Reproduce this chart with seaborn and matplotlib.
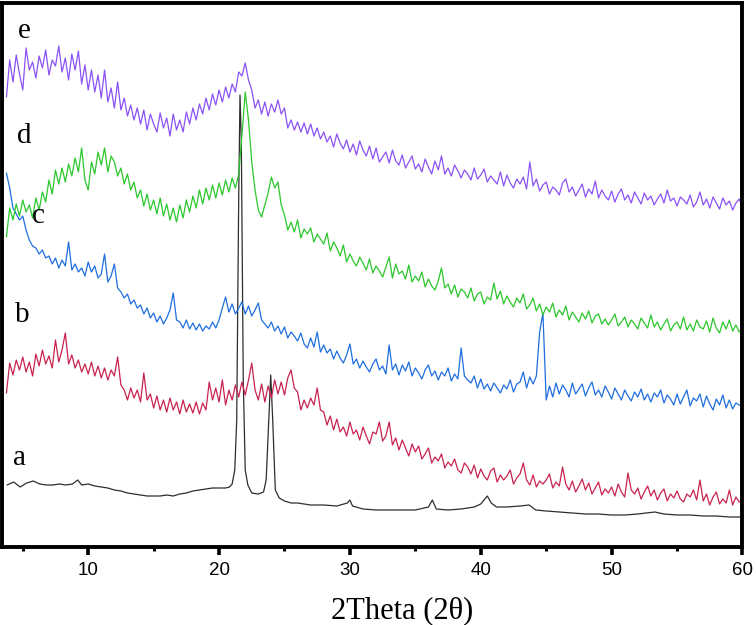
import numpy as np
import pandas as pd
import seaborn as sns
import matplotlib
matplotlib.use("Agg")
import matplotlib.pyplot as plt

# ---------------- data (arbitrary intensity units incl. offsets) ----------------
two_theta = np.arange(3.75, 60.0001, 0.25)

e_vals = [463,
    500, 478, 505, 486,  470, 512, 490, 498,  482, 504, 492, 510,  485, 500, 494, 514,
    488, 502, 480, 506,  490, 509, 476, 495,  470, 490, 468, 485,  462, 490, 458, 472,
    452, 478, 450, 462,  444, 455, 440, 452,  436, 450, 430, 446,  436, 428, 447, 432,
    442, 424, 446, 430,  440, 428, 448, 436,  452, 440, 456, 446,  462, 450, 466, 455,
    470, 458, 473, 462,  476, 468, 488, 484,  497, 480, 470, 452,  460, 446, 458, 444,
    456, 448, 460, 446,  452, 432, 440, 430,  438, 428, 437, 426,  436, 424, 432, 421,
    428, 418, 424, 413,  426, 417, 411, 420,  408, 416, 405, 419,  410, 404, 414, 401,
    412, 398, 403, 408,  397, 410, 399, 395,  405, 392, 398, 404,  391, 396, 388, 401,
    393, 386, 399, 390,  404, 386, 392, 384,  395, 389, 382, 390,  386, 380, 392, 381,
    385, 391, 378, 384,  380, 376, 388, 374,  385, 377, 372, 381,  376, 383, 371, 398,
    374, 381, 369, 375,  378, 366, 373, 370,  365, 377, 381, 368,  373, 364, 370, 376,
    363, 371, 366, 379,  362, 370, 364, 360,  369, 358, 366, 371,  360, 365, 357, 368,
    362, 356, 367, 360,  364, 355, 361, 366,  357, 370, 359, 362,  354, 363, 360, 356,
    365, 353, 358, 368,  355, 361, 352, 363,  357, 351, 362, 355,  359, 350, 357, 361,
    353]

d_vals = [323,
    352, 340, 356, 344,  360, 348, 355, 342,  362, 350, 368, 358,  380, 366, 390, 376,
    392, 378, 396, 384,  402, 388, 412, 380,  370, 398, 386, 408,  395, 412, 388, 404,
    398, 384, 392, 376,  386, 370, 378, 362,  370, 354, 366, 350,  360, 346, 362, 344,
    356, 340, 352, 338,  355, 342, 360, 348,  364, 352, 370, 356,  372, 360, 375, 362,
    377, 365, 380, 368,  382, 372, 386, 425,  468, 440, 398, 370,  350, 343, 355, 367,
    383, 372, 378, 355,  345, 330, 338, 328,  340, 322, 331, 326,  332, 318, 326, 321,
    316, 327, 309, 318,  312, 304, 315, 298,  306, 299, 294, 303,  297, 290, 301, 287,
    294, 289, 283, 293,  303, 282, 296, 286,  289, 281, 295, 278,  284, 279, 288, 273,
    281, 274, 270, 279,  292, 272, 276, 266,  275, 263, 271, 268,  262, 272, 259, 266,
    268, 256, 263, 260,  277, 261, 269, 256,  264, 258, 253, 262,  257, 266, 251, 255,
    262, 249, 256, 245,  253, 248, 257, 243,  250, 245, 254, 240,  248, 243, 238, 247,
    241, 249, 237, 244,  246, 236, 241, 235,  240, 246, 234, 238,  243, 233, 240, 236,
    231, 242, 237, 232,  245, 233, 238, 230,  236, 241, 229, 235,  238, 231, 243, 230,
    236, 229, 240, 233,  231, 239, 228, 242,  232, 227, 238, 231,  240, 229, 235, 228,
    232]

c_vals = [387,
    372, 352, 346, 340,  344, 330, 320, 314,  312, 306, 310, 302,  304, 296, 302, 292,
    300, 294, 318, 290,  296, 288, 292, 284,  298, 288, 294, 282,  286, 306, 278, 284,
    296, 272, 268, 262,  266, 256, 260, 252,  255, 246, 252, 242,  247, 238, 244, 236,
    242, 250, 267, 240,  238, 232, 240, 231,  237, 230, 236, 229,  234, 231, 238, 232,
    240, 252, 263, 248,  256, 246, 252, 258,  246, 254, 244, 250,  257, 240, 236, 232,
    238, 229, 234, 226,  233, 222, 228, 224,  219, 227, 216, 212,  222, 213, 228, 208,
    215, 207, 211, 201,  209, 202, 197, 205,  216, 196, 201, 192,  199, 193, 188, 196,
    201, 190, 194, 186,  215, 190, 196, 185,  195, 189, 198, 184,  192, 187, 181, 190,
    195, 184, 189, 180,  188, 184, 192, 179,  186, 181, 212, 184,  180, 177, 184, 172,
    181, 171, 176, 169,  177, 172, 167, 175,  171, 180, 168, 176,  178, 188, 172, 183,
    176, 184, 228, 247,  160, 174, 163, 177,  166, 175, 170, 163,  177, 166, 171, 176,
    164, 172, 178, 165,  170, 163, 174, 168,  161, 172, 166, 160,  170, 164, 159, 168,
    163, 171, 160, 166,  158, 167, 163, 170,  157, 165, 161, 155,  166, 156, 163, 170,
    154, 162, 159, 166,  153, 164, 156, 150,  161, 155, 165, 152,  160, 151, 157, 155,
    153]

b_vals = [167,
    197, 185, 200, 190,  203, 188, 198, 184,  206, 194, 210, 196,  204, 192, 220, 198,
    210, 227, 196, 205,  192, 200, 188, 196,  186, 198, 184, 194,  182, 192, 180, 190,
    184, 203, 175, 170,  160, 172, 162, 170,  158, 187, 160, 166,  152, 164, 150, 160,
    148, 162, 150, 158,  146, 160, 148, 156,  147, 158, 146, 157,  150, 178, 160, 172,
    158, 180, 155, 170,  160, 175, 163, 178,  165, 180, 197, 170,  160, 176, 158, 174,
    162, 180, 166, 178,  165, 182, 190, 172,  168, 150, 160, 152,  162, 155, 172, 150,
    148, 135, 144, 130,  141, 128, 133, 124,  138, 126, 130, 120,  133, 124, 116, 128,
    126, 138, 119, 124,  138, 115, 122, 110,  120, 112, 104, 116,  108, 114, 101, 106,
    112, 97, 103, 99,    106, 92, 98, 94,     101, 90, 87, 97,     93, 86, 95, 82,
    91, 84, 80, 89,      92, 78, 85, 80,      84, 90, 76, 82,      86, 97, 80, 75,
    85, 73, 79, 76,      80, 86, 72, 78,      74, 93, 76, 70,      79, 68, 74, 81,
    70, 77, 66, 72,      78, 65, 71, 67,      73, 64, 76, 68,      63, 87, 70, 66,
    72, 61, 68, 74,      64, 70, 60, 67,      71, 59, 66, 62,      69, 61, 58, 66,
    63, 70, 60, 80,      59, 66, 55, 63,      68, 56, 61, 57,      70, 55, 63, 58,
    60]

a_theta = [3.8, 4.3, 4.8, 5.3, 5.8, 6.3, 6.8, 7.3, 7.8, 8.3, 8.8, 9.2, 9.5, 10.0,
           10.5, 11.0, 11.5, 12.0, 12.5, 13.0, 13.5, 14.0, 14.5, 15.0, 15.5, 16.0,
           16.5, 17.0, 17.5, 18.0, 18.5, 19.0, 19.5, 20.0, 20.5, 20.8, 21.0, 21.2,
           21.35, 21.5, 21.6, 21.7, 21.85, 22.0, 22.2, 22.5, 23.0, 23.4, 23.6, 23.8,
           23.95, 24.1, 24.3, 24.6, 25.0, 25.5, 26.0, 27.0, 28.0, 29.0, 29.8, 30.0,
           30.2, 31.0, 32.0, 33.0, 34.0, 35.0, 36.0, 36.3, 36.6, 37.5, 38.5, 39.5,
           40.0, 40.5, 40.8, 41.2, 42.0, 43.0, 43.7, 44.2, 45.0, 46.0, 47.0, 48.0,
           49.0, 50.0, 51.0, 52.0, 53.3, 54.0, 55.0, 56.0, 57.0, 58.0, 59.0, 60.0]
a_vals = [75, 78, 73, 77, 79, 76, 75, 75, 76, 75, 76, 80, 75, 76,
          74, 73, 72, 70, 69, 67, 66, 65, 64, 64, 64, 65,
          64, 66, 67, 69, 70, 71, 72, 72, 72, 73, 76, 90,
          140, 360, 465, 420, 180, 90, 75, 67, 66, 68, 80, 140,
          185, 140, 70, 62, 59, 57, 57, 55, 55, 54, 57, 60,
          54, 51, 50, 50, 50, 50, 53, 60, 51, 50, 51, 53,
          56, 64, 57, 53, 53, 54, 55, 50, 49, 48, 47, 46,
          46, 45, 45, 46, 48, 46, 45, 45, 44, 44, 43, 43]

sample_labels = ["a", "b", "c", "d", "e"]
colors = {"a": "#2e2e2e", "b": "#c8234e", "c": "#1f6ee0", "d": "#2cc72c", "e": "#8a52f5"}

frames = [pd.DataFrame({"two_theta": a_theta, "intensity": a_vals, "sample": "a"})]
for lab, vals in zip(["b", "c", "d", "e"], [b_vals, c_vals, d_vals, e_vals]):
    frames.append(pd.DataFrame({"two_theta": two_theta, "intensity": vals, "sample": lab}))
df = pd.concat(frames, ignore_index=True)

# ---------------- figure ----------------
sns.set_theme(style="white")
fig = plt.figure(figsize=(7.56, 6.25), dpi=100)
ax = fig.add_axes([0.0033, 0.1248, 0.9788, 0.8712])

sns.lineplot(data=df, x="two_theta", y="intensity", hue="sample", hue_order=sample_labels,
             palette=colors, estimator=None, sort=False, legend=False, linewidth=0.9, ax=ax)

ax.set_xlim(3.45, 60)
ax.set_ylim(13, 557.5)
ax.set_yticks([])
ax.set_ylabel("")

ax.set_xticks([10, 20, 30, 40, 50, 60])
ax.set_xticks([5, 15, 25, 35, 45, 55], minor=True)
ax.tick_params(axis="x", which="major", direction="out", length=5.5, width=2.6,
               color="black", pad=5, labelsize=13.5, bottom=True)
ax.tick_params(axis="x", which="minor", direction="out", length=3.2, width=2.2,
               color="black", bottom=True)
for lbl in ax.get_xticklabels():
    lbl.set_family(["Liberation Sans", "DejaVu Sans"])
    lbl.set_color("black")

for sp in ax.spines.values():
    sp.set_visible(True)
    sp.set_color("black")
    sp.set_linewidth(2.8)

ax.set_xlabel("2Theta (2θ)", fontsize=22, family=["Liberation Serif", "DejaVu Serif"],
              color="black", va="baseline")
ax.xaxis.set_label_coords(0.54, -0.13)

label_pos = {"a": (4.25, 95), "b": (4.40, 238), "c": (5.70, 337), "d": (4.56, 417), "e": (4.63, 522)}
for lab in sample_labels:
    x0, y0 = label_pos[lab]
    ax.text(x0, y0, lab, fontsize=21, family=["Liberation Serif", "DejaVu Serif"],
            ha="left", va="baseline", color="black")

fig.savefig("out.png", dpi=100)
